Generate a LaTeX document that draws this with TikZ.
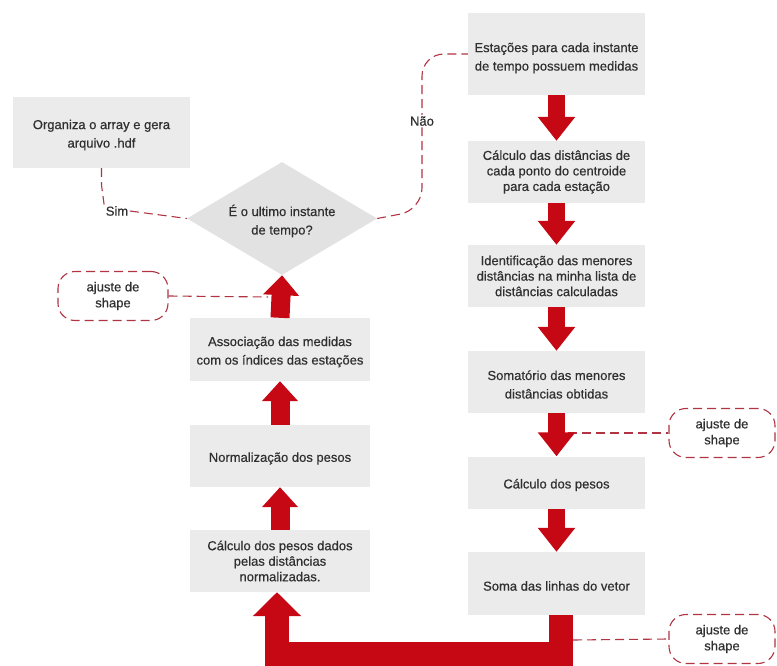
\documentclass[tikz,border=0pt]{standalone}
\usepackage{fontspec}
\setmainfont{Liberation Sans}[FakeBold=0.5]
\usetikzlibrary{arrows.meta,shapes.geometric,calc}
\definecolor{boxgray}{RGB}{235,235,235}
\definecolor{diagray}{RGB}{226,226,226}
\definecolor{arrred}{RGB}{198,8,20}
\definecolor{dashred}{RGB}{176,52,66}
\definecolor{txt}{RGB}{48,48,48}
\begin{document}
\begin{tikzpicture}[x=1pt,y=-1pt,
  box/.style={fill=boxgray, draw=none, minimum width=177pt, minimum height=62pt, inner sep=0pt},
  boxtext/.style={align=center, font=\fontsize{13}{18.5}\selectfont, text=txt, inner sep=0pt, yshift=-2.5pt},
  boxtextc/.style={align=center, font=\fontsize{13}{15.5}\selectfont, text=txt, inner sep=0pt},
  decbox/.style={diamond, fill=diagray, draw=none, minimum width=190pt, minimum height=113pt,
    aspect=1.68, inner sep=0pt},
  ajuste/.style={draw=dashred, line width=1.1pt, dash pattern=on 9pt off 5pt, rounded corners=17pt,
    fill=white, minimum width=106pt, minimum height=49pt, inner sep=0pt,
    align=center, font=\fontsize{13}{16}\selectfont, text=txt},
  lbl/.style={fill=white, inner sep=1.5pt, font=\fontsize{13}{14}\selectfont, text=txt},
  dashlink/.style={draw=dashred, line width=1.1pt, dash pattern=on 9pt off 5pt},
  downarr/.style={draw=arrred, line width=17pt, -{Triangle[width=36pt,length=24pt]}},
  uparr/.style={draw=arrred, line width=19pt, -{Triangle[width=35pt,length=20pt]}},
  bigarr/.style={draw=arrred, line width=24pt, line join=miter, -{Triangle[width=47pt,length=24pt]}}
]
\useasboundingbox (0,0) rectangle (777,666);

% boxes
\node[box, minimum height=71pt, label={[boxtext]center:Organiza o array e gera\\arquivo .hdf}] (org) at (101.5,132.5) {};
\node[box, minimum height=82pt, label={[boxtext, yshift=-1.5pt]center:Estações para cada instante\\de tempo possuem medidas}] (est) at (556.5,54) {};
\node[box, label={[boxtextc]center:Cálculo das distâncias de\\cada ponto do centroide\\para cada estação}] (cd) at (556.5,172) {};
\node[box, label={[boxtextc]center:Identificação das menores\\distâncias na minha lista de\\distâncias calculadas}] (idm) at (556.5,276) {};
\node[box, label={[boxtext]center:Somatório das menores\\distâncias obtidas}] (smt) at (556.5,382) {};
\node[box, minimum height=52pt, label={[boxtext]center:Cálculo dos pesos}] (cpe) at (556.5,482.5) {};
\node[box, minimum height=63pt, label={[boxtext]center:Soma das linhas do vetor}] (slv) at (556.5,583.5) {};
\node[box, minimum width=180pt, minimum height=63pt, label={[boxtext]center:Associação das medidas\\com os índices das estações}] (asc) at (280,349.5) {};
\node[box, minimum width=180pt, label={[boxtext]center:Normalização dos pesos}] (nor) at (280,456) {};
\node[box, minimum width=180pt, label={[boxtextc]center:Cálculo dos pesos dados\\pelas distâncias\\normalizadas.}] (cpd) at (280,561) {};
\node[decbox, label={[boxtext]center:É o ultimo instante\\de tempo?}] (dec) at (282,218.5) {};

% ajuste nodes
\node[ajuste, minimum width=110pt] (ajL) at (113,296) {ajuste de\\shape};
\node[ajuste] (ajR1) at (722,433) {ajuste de\\shape};
\node[ajuste] (ajR2) at (722,639) {ajuste de\\shape};

% decision links
\node[lbl] (sim) at (117,211) {Sim};
\draw[dashlink] (org.south) -- (101.5,185) -- (sim.north west);
\draw[dashlink] (sim.east) -- (dec.west);
\draw[dashlink, rounded corners=22pt] (dec.east) -- (422,210) -- node[lbl, pos=0.57] (nao) {Não} (422,54) -- (est.west);

% ajuste links
\coordinate (pL) at (268,297);
\coordinate (pR1) at (568,433);
\coordinate (pR2) at (573,640);
\draw[dashlink] (ajL.east) -- (pL);
\draw[dashlink] (pR1) -- (ajR1.west);
\draw[dashlink] (pR2) -- (ajR2.west);

% block arrows
\draw[downarr] (est.south) -- (cd.north);
\draw[downarr] (cd.south) -- (idm.north);
\draw[downarr] (idm.south) -- (smt.north);
\draw[downarr] (smt.south) -- (cpe.north);
\draw[downarr] (cpe.south) -- (slv.north);
\draw[uparr] (cpd.north) -- (nor.south);
\draw[uparr] (nor.north) -- (asc.south);
\draw[uparr] (asc.north) -- (dec.south);
\coordinate (bl) at (277,654);
\draw[bigarr] ($(slv.south)+(4,0)$) |- (bl) -- (bl |- cpd.south);
\end{tikzpicture}
\end{document}
